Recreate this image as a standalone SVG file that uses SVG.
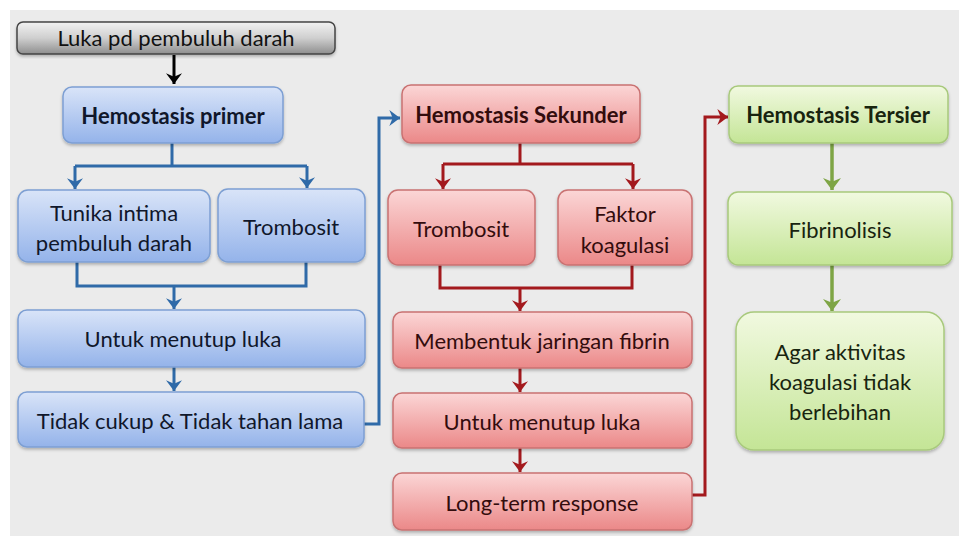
<svg xmlns="http://www.w3.org/2000/svg" width="959" height="536" viewBox="0 0 959 536">
<defs>
<linearGradient id="gGray" x1="0" y1="0" x2="0" y2="1"><stop offset="0" stop-color="#f2f2f2"/><stop offset="0.5" stop-color="#cfcfcf"/><stop offset="1" stop-color="#8e8e8e"/></linearGradient>
<linearGradient id="gBlue" x1="0" y1="0" x2="0" y2="1"><stop offset="0" stop-color="#d9e4f8"/><stop offset="1" stop-color="#94b3ea"/></linearGradient>
<linearGradient id="gRed" x1="0" y1="0" x2="0" y2="1"><stop offset="0" stop-color="#fbd6d6"/><stop offset="1" stop-color="#eb8888"/></linearGradient>
<linearGradient id="gGreen" x1="0" y1="0" x2="0" y2="1"><stop offset="0" stop-color="#f1f9e0"/><stop offset="1" stop-color="#c4e596"/></linearGradient>
<marker id="aBlue" viewBox="0 0 12 12" refX="10" refY="6" markerWidth="16" markerHeight="16" orient="auto" markerUnits="userSpaceOnUse"><path d="M2,0 L10,6 L2,12 L4.5,6 Z" fill="#2f6aa8"/></marker>
<marker id="aRed" viewBox="0 0 12 12" refX="10" refY="6" markerWidth="16" markerHeight="16" orient="auto" markerUnits="userSpaceOnUse"><path d="M2,0 L10,6 L2,12 L4.5,6 Z" fill="#a3191d"/></marker>
<marker id="aGreen" viewBox="0 0 12 12" refX="10" refY="6" markerWidth="18" markerHeight="18" orient="auto" markerUnits="userSpaceOnUse"><path d="M2,0 L10,6 L2,12 L4.5,6 Z" fill="#7ea545"/></marker>
<marker id="aBk" viewBox="0 0 12 12" refX="10" refY="6" markerWidth="16" markerHeight="16" orient="auto" markerUnits="userSpaceOnUse"><path d="M2,0 L10,6 L2,12 L4.5,6 Z" fill="#000"/></marker>
<filter id="sh" x="-5%" y="-10%" width="110%" height="125%"><feDropShadow dx="0" dy="2" stdDeviation="1.5" flood-color="#000" flood-opacity="0.25"/></filter>
</defs>
<style>
text{font-family:Lato,"Open Sans","Liberation Sans",sans-serif;text-anchor:middle;dominant-baseline:central;font-size:22px}
.t{font-weight:bold}
rect.gray,rect.blue,rect.red,rect.green{filter:url(#sh)}
.gray{fill:url(#gGray);stroke:#444;stroke-width:1.5}
.blue{fill:url(#gBlue);stroke:#7d9fd3;stroke-width:1.5}
.red{fill:url(#gRed);stroke:#c97272;stroke-width:1.5}
.green{fill:url(#gGreen);stroke:#a8c97c;stroke-width:1.5}
.tb{fill:#10172b}
.tr{fill:#330c0d}
.tg{fill:#18240f}
.cb{fill:none;stroke:#2f6aa8;stroke-width:3}
.cr{fill:none;stroke:#a3191d;stroke-width:3}
.cg{fill:none;stroke:#7ea545;stroke-width:3.5}
.ck{fill:none;stroke:#000;stroke-width:3}
</style>
<rect x="0" y="0" width="959" height="536" fill="#ffffff"/>
<rect x="10" y="10" width="949" height="526" fill="#ebebeb"/>

<g id="connectors">
<path class="ck" d="M174,55 V84" marker-end="url(#aBk)"/>
<path class="cb" d="M172,143 V166"/>
<path class="cb" d="M75,166 H307"/>
<path class="cb" d="M75,166 V189" marker-end="url(#aBlue)"/>
<path class="cb" d="M307,166 V188" marker-end="url(#aBlue)"/>
<path class="cb" d="M77,262 V286 H306 V262"/>
<path class="cb" d="M174,286 V309" marker-end="url(#aBlue)"/>
<path class="cb" d="M174,367 V391" marker-end="url(#aBlue)"/>
<path class="cb" d="M364,424 H379 V118 H400" marker-end="url(#aBlue)"/>
<path class="cr" d="M520,143 V164"/>
<path class="cr" d="M443,164 H633"/>
<path class="cr" d="M443,164 V189" marker-end="url(#aRed)"/>
<path class="cr" d="M633,164 V189" marker-end="url(#aRed)"/>
<path class="cr" d="M440,265 V288 H632 V265"/>
<path class="cr" d="M520,288 V311" marker-end="url(#aRed)"/>
<path class="cr" d="M520,368 V392" marker-end="url(#aRed)"/>
<path class="cr" d="M520,448 V472" marker-end="url(#aRed)"/>
<path class="cr" d="M692,495 H705 V117 H728" marker-end="url(#aRed)"/>
<path class="cg" d="M832,143 V190" marker-end="url(#aGreen)"/>
<path class="cg" d="M832,265 V311" marker-end="url(#aGreen)"/>
</g>

<g id="luka"><rect class="gray" x="17" y="22" width="318" height="32" rx="6"/><text x="176" y="37" fill="#111" font-size="23">Luka pd pembuluh darah</text></g>

<g id="hemostasis-primer"><rect class="blue" x="63" y="87" width="220" height="56" rx="9"/><text class="t tb" x="173" y="115">Hemostasis primer</text></g>
<g id="tunika"><rect class="blue" x="18" y="190" width="192" height="72" rx="10"/><text class="tb" x="114" y="212">Tunika intima</text><text class="tb" x="114" y="242">pembuluh darah</text></g>
<g id="trombosit-1"><rect class="blue" x="218" y="189" width="147" height="73" rx="10"/><text class="tb" x="291" y="226">Trombosit</text></g>
<g id="menutup-1"><rect class="blue" x="18" y="310" width="347" height="57" rx="9"/><text class="tb" x="183" y="338">Untuk menutup luka</text></g>
<g id="tidak-cukup"><rect class="blue" x="18" y="392" width="346" height="55" rx="9"/><text class="tb" x="190" y="420">Tidak cukup &amp; Tidak tahan lama</text></g>

<g id="hemostasis-sekunder"><rect class="red" x="402" y="85" width="238" height="58" rx="9"/><text class="t tr" x="521" y="114">Hemostasis Sekunder</text></g>
<g id="trombosit-2"><rect class="red" x="388" y="190" width="147" height="75" rx="10"/><text class="tr" x="461" y="228">Trombosit</text></g>
<g id="faktor"><rect class="red" x="558" y="190" width="134" height="75" rx="10"/><text class="tr" x="625" y="213">Faktor</text><text class="tr" x="625" y="244">koagulasi</text></g>
<g id="fibrin"><rect class="red" x="393" y="312" width="299" height="56" rx="9"/><text class="tr" x="542" y="340">Membentuk jaringan fibrin</text></g>
<g id="menutup-2"><rect class="red" x="393" y="393" width="299" height="55" rx="9"/><text class="tr" x="542" y="421">Untuk menutup luka</text></g>
<g id="long-term"><rect class="red" x="393" y="473" width="299" height="57" rx="9"/><text class="tr" x="542" y="502">Long-term response</text></g>

<g id="hemostasis-tersier"><rect class="green" x="729" y="86" width="219" height="57" rx="9"/><text class="t tg" x="838" y="114">Hemostasis Tersier</text></g>
<g id="fibrinolisis"><rect class="green" x="728" y="192" width="224" height="73" rx="10"/><text class="tg" x="840" y="229">Fibrinolisis</text></g>
<g id="agar"><rect class="green" x="736" y="312" width="208" height="138" rx="18"/><text class="tg" x="840" y="351">Agar aktivitas</text><text class="tg" x="840" y="381">koagulasi tidak</text><text class="tg" x="840" y="411">berlebihan</text></g>
</svg>
